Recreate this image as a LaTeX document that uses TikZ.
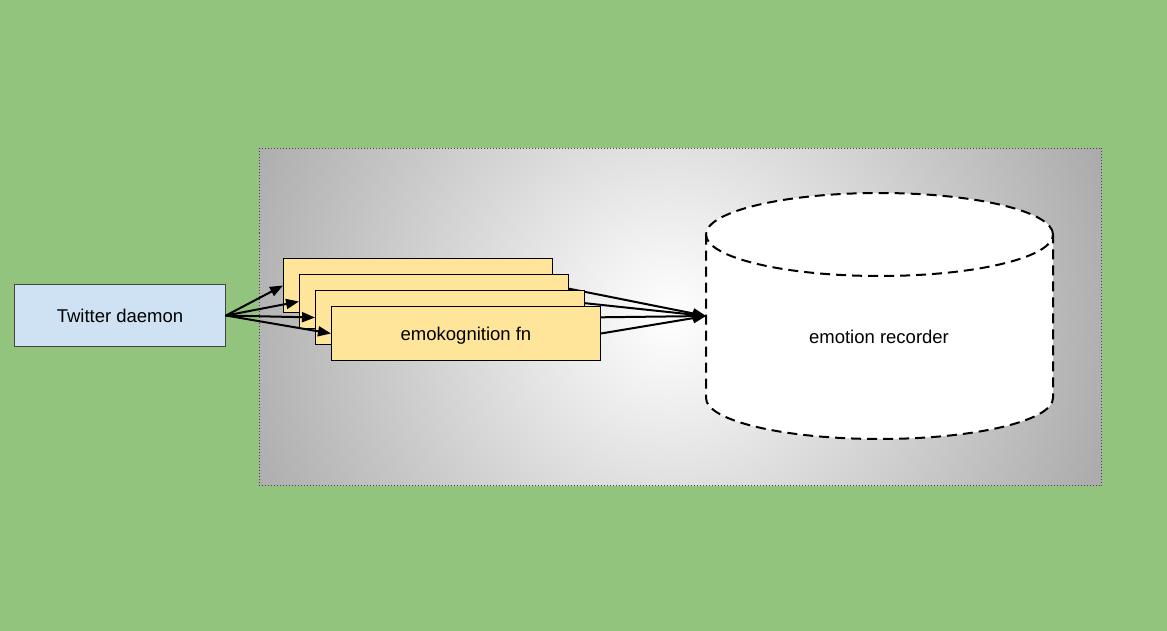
\documentclass[tikz,border=0pt]{standalone}
\usepackage{fontspec}
\setmainfont{Liberation Sans}
\usetikzlibrary{arrows.meta}
\definecolor{bggreen}{HTML}{93C47D}
\definecolor{twblue}{HTML}{CFE2F3}
\definecolor{fnyellow}{HTML}{FFE599}
\definecolor{panelgray}{HTML}{ABABAB}
\definecolor{borderdark}{HTML}{444444}
\begin{document}
\begin{tikzpicture}[x=1pt,y=-1pt,
  lbl/.style={font=\fontsize{18.5}{22}\selectfont, text depth=0pt},
  fnbox/.style={draw=black, line width=1pt, fill=fnyellow, minimum width=269pt,
    minimum height=54pt, inner sep=0pt, anchor=north west, lbl},
  arr/.style={line width=2pt, line cap=round, -{Triangle[length=13pt,width=10pt]}},
  cyl/.style={draw=black, line width=2pt, dash pattern=on 10pt off 6pt},
]
% background
\fill[bggreen] (0,0) rectangle (1167,631);
\useasboundingbox (0,0) rectangle (1167,631);
% panel
\fill[panelgray] (259.5,148.5) rectangle (1101.5,485.5);
\begin{scope}
  \clip (259.5,148.5) rectangle (1101.5,485.5);
  \shade[inner color=white, outer color=panelgray] (670,316) circle (460pt);
\end{scope}
\draw[borderdark, line width=1pt, dash pattern=on 1pt off 2pt] (259.5,148.5) rectangle (1101.5,485.5);
% cylinder
\fill[white] (706,234.5) -- (706,398) arc[start angle=180, end angle=360, x radius=173.5pt, y radius=41pt] -- (1053,234.5) -- cycle;
\fill[white] (879.5,234.5) ellipse [x radius=173.5pt, y radius=41.5pt];
\draw[cyl] (879.5,234.5) ellipse [x radius=173.5pt, y radius=41.5pt];
\draw[cyl] (706,234.5) -- (706,398) arc[start angle=180, end angle=360, x radius=173.5pt, y radius=41pt] -- (1053,234.5);
\node[lbl] (rec) at (879,337) {emotion recorder};
\coordinate (recW) at (706,316);
% twitter daemon
\node[draw=borderdark, line width=1pt, fill=twblue, minimum width=211pt, minimum height=62pt,
  inner sep=0pt, anchor=north west, lbl] (tw) at (14,284) {Twitter daemon};
% function boxes
\node[fnbox] (f1) at (283,258) {};
\draw[arr] (tw.east) -- (f1.west);
\draw[arr] (f1.east) -- (recW);
\node[fnbox] (f2) at (299,274) {};
\draw[arr] (tw.east) -- (f2.west);
\draw[arr] (f2.east) -- (recW);
\node[fnbox] (f3) at (315,290) {};
\draw[arr] (tw.east) -- (f3.west);
\draw[arr] (f3.east) -- (recW);
\node[fnbox] (f4) at (331,306) {emokognition fn};
\draw[arr] (tw.east) -- (f4.west);
\draw[arr] (f4.east) -- (recW);
\end{tikzpicture}
\end{document}
